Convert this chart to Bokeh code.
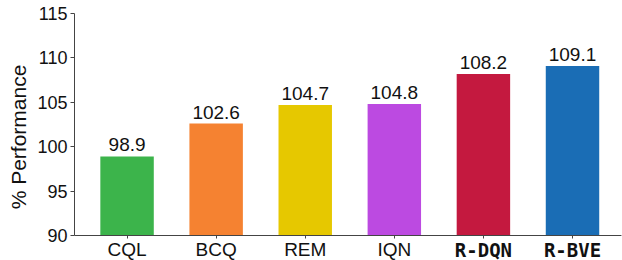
from bokeh.plotting import figure
from bokeh.models import ColumnDataSource, FixedTicker, LinearAxis
from bokeh.core.properties import value
from bokeh.embed import file_html
from bokeh.resources import INLINE

methods = ["CQL", "BCQ", "REM", "IQN", "R-DQN", "R-BVE"]
scores = [98.9, 102.6, 104.7, 104.8, 108.2, 109.1]
colors = ["#3cb44b", "#f58231", "#e6c800", "#bc4ae1", "#c4193f", "#1a6db5"]
bold_mono = [False, False, False, False, True, True]
y_ticks = [90, 95, 100, 105, 110, 115]
baseline = 90

xs = list(range(len(methods)))
src = ColumnDataSource(dict(x=xs, top=scores, color=colors,
                            label=[f"{v:.1f}" for v in scores]))

p = figure(width=622, height=260, output_backend="svg", toolbar_location=None,
           x_range=(-0.59, 5.55), y_range=(87.185, 115),
           min_border_left=74, min_border_top=13, min_border_right=1, min_border_bottom=0,
           x_axis_location=None)
p.background_fill_color = "white"
p.border_fill_color = "white"
p.outline_line_color = None
p.grid.visible = False

axis_color = "#444444"

p.vbar(x="x", top="top", bottom=baseline, width=0.6, color="color", source=src, line_color=None)
p.text(x="x", y="top", text="label", source=src, text_align="center", text_baseline="bottom",
       y_offset=-5, text_font_size="19px", text_font=value("Liberation Sans"), text_color="#111111")


def make_xaxis(flags, font, style, size):
    ticks = [x for x, b in zip(xs, bold_mono) if b == flags]
    names = {x: m for x, m, b in zip(xs, methods, bold_mono) if b == flags}
    ax = LinearAxis(fixed_location=baseline, ticker=FixedTicker(ticks=ticks),
                    major_label_overrides=names)
    ax.major_label_text_font = font
    ax.major_label_text_font_style = style
    ax.major_label_text_font_size = size
    ax.major_label_text_color = "#111111"
    ax.major_label_standoff = 0
    ax.major_tick_in = 0
    ax.major_tick_out = 3
    ax.minor_tick_line_color = None
    ax.axis_line_color = axis_color
    ax.major_tick_line_color = axis_color
    p.add_layout(ax, "below")
    return ax


make_xaxis(False, "Liberation Sans", "normal", "19px")
make_xaxis(True, "DejaVu Sans Mono", "bold", "19px")

p.yaxis.bounds = (90, 115)
p.yaxis.ticker = FixedTicker(ticks=y_ticks)
p.yaxis.axis_label = "% Performance"
p.yaxis.axis_label_text_font = "Liberation Sans"
p.yaxis.axis_label_text_font_style = "normal"
p.yaxis.axis_label_text_font_size = "21px"
p.yaxis.axis_label_text_color = "#111111"
p.yaxis.axis_label_standoff = 4
p.yaxis.major_label_text_font = "Liberation Sans"
p.yaxis.major_label_text_font_size = "18px"
p.yaxis.major_label_text_color = "#111111"
p.yaxis.major_label_standoff = 3
p.yaxis.major_tick_in = 0
p.yaxis.major_tick_out = 4
p.yaxis.minor_tick_line_color = None
p.yaxis.axis_line_color = axis_color
p.yaxis.major_tick_line_color = axis_color

open("out.html", "w").write(file_html(p, INLINE))
